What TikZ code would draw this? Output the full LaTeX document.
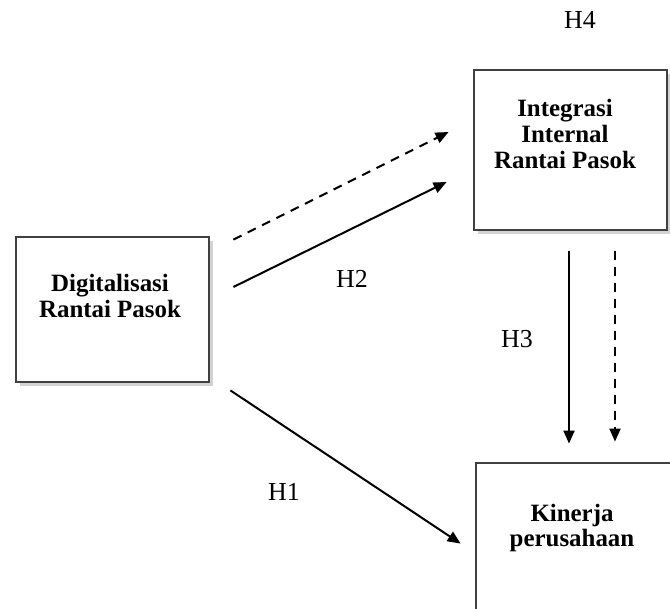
\documentclass[tikz,border=0pt]{standalone}
\usepackage{fontspec}
\setmainfont{Liberation Serif}
\usetikzlibrary{arrows.meta, shadows}

\begin{document}
\begin{tikzpicture}[x=0.5bp, y=-0.5bp,
  box/.style={draw=black!75, line width=1.4bp, fill=white, inner sep=0pt,
    drop shadow={shadow xshift=1.8bp, shadow yshift=-1.8bp, opacity=0.35}},
  boxtext/.style={align=center, font=\fontsize{12.5}{13}\selectfont\bfseries, inner sep=0pt},
  hyp/.style={font=\fontsize{13}{14}\selectfont, inner sep=0pt},
  link/.style={line width=1bp, -{Triangle[length=6.5bp, width=5.5bp]}},
  dashlink/.style={link, dash pattern=on 4.5bp off 3.5bp}]

\useasboundingbox (0,0) rectangle (670,609);

\node[box, minimum width=96.5bp, minimum height=72.5bp] (dig) at (112.5,309.5) {};
\node[boxtext] (digT) at (110,296) {Digitalisasi\\Rantai Pasok};

\node[box, minimum width=96.5bp, minimum height=80bp] (int) at (570.5,150) {};
\node[boxtext] (intT) at (565,134) {Integrasi\\Internal\\Rantai Pasok};

\node[box, minimum width=100bp, minimum height=90bp] (kin) at (576,553) {};
\node[boxtext] (kinT) at (572,528) {Kinerja\\perusahaan};

\draw [dashlink] ([shift={(23,4)}]dig.north east) -- ([shift={(-24,-18)}]int.west);
\draw [link] ([shift={(23,-22.5)}]dig.east) -- ([shift={(-26,32)}]int.west);
\draw [link] ([shift={(20,7)}]dig.south east) -- ([shift={(-14,82)}]kin.north west);
\draw [link] ([shift={(-1.5,20)}]int.south) -- ([shift={(-7,-18)}]kin.north);
\draw [dashlink] ([shift={(44.5,20)}]int.south) -- ([shift={(39,-20)}]kin.north);

\node[hyp] (h4) at (580,20) {H4};
\node[hyp] (h2) at (352,279) {H2};
\node[hyp] (h3) at (517,339) {H3};
\node[hyp] (h1) at (284,492) {H1};

\end{tikzpicture}
\end{document}
